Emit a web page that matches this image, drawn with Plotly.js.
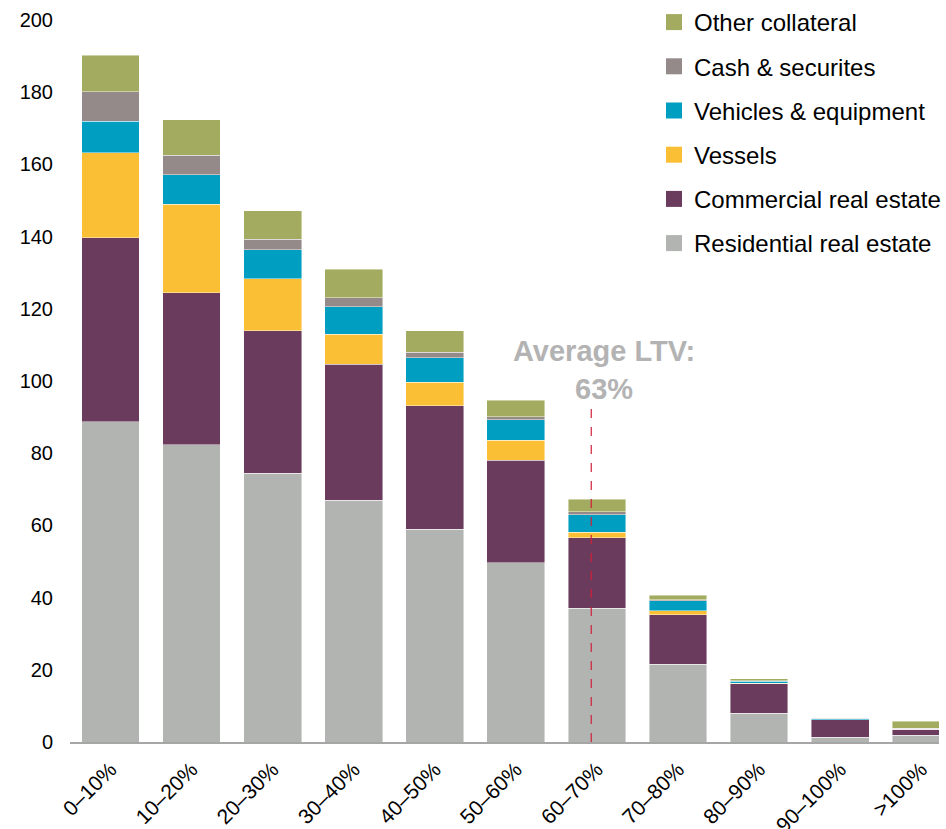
<!DOCTYPE html>
<html>
<head>
<meta charset="utf-8">
<script src="https://cdn.plot.ly/plotly-3.0.1.min.js"></script>
<style>html,body{margin:0;padding:0;background:#fff;}#chart{width:946px;height:829px;}</style>
</head>
<body>
<div id="chart"></div>
<script>
const categories = ["0–10%","10–20%","20–30%","30–40%","40–50%","50–60%","60–70%","70–80%","80–90%","90–100%",">100%"];
const residential = [88.7, 82.3, 74.4, 67.0, 59.0, 49.7, 37.1, 21.6, 8.0, 1.3, 1.9];
const commercial  = [51.0, 42.2, 39.5, 37.6, 34.1, 28.4, 19.5, 13.7, 8.1, 4.9, 1.6];
const vessels     = [23.5, 24.4, 14.4, 8.4, 6.6, 5.5, 1.5, 1.0, 0.2, 0.0, 0.0];
const vehicles    = [8.7, 8.3, 8.0, 7.6, 6.8, 5.7, 4.9, 2.8, 0.5, 0.3, 0.2];
const cash        = [8.2, 5.3, 2.9, 2.4, 1.4, 0.8, 0.8, 0.3, 0.1, 0.1, 0.1];
const other       = [10.2, 9.9, 8.0, 7.9, 6.0, 4.5, 3.5, 1.2, 0.6, 0.1, 1.9];
const averageLTVPos = 5.93;
const averageLTVLabel = "Average LTV:<br>63%";

const seriesNames = ["Residential real estate","Commercial real estate","Vessels","Vehicles & equipment","Cash & securites","Other collateral"];
const seriesValues = [residential, commercial, vessels, vehicles, cash, other];
const seriesColors = ["#b2b4b2","#6a3b5d","#fbbf36","#009ec0","#948a8a","#a2ab5f"];

const font = "Arial, 'Liberation Sans', sans-serif";
const barTraces = seriesNames.map((n, i) => ({
  type: "bar",
  name: n,
  x: categories.map((c, k) => k),
  y: seriesValues[i],
  showlegend: false,
  marker: {color: seriesColors[i], line: {color: "rgba(255,255,255,0.55)", width: 0.8}},
  hoverinfo: "skip"
}));
// legend entries (square swatches) for the same series
const legendTraces = seriesNames.map((n, i) => ({
  type: "scatter", mode: "markers",
  name: n,
  x: [null], y: [null],
  legendgroup: "g" + i,
  legendrank: seriesNames.length - i,
  showlegend: true,
  marker: {symbol: "square", size: 22, color: seriesColors[i], line: {width: 0}},
  hoverinfo: "skip"
}));

const plotH = 829 - 87;
const layout = {
  width: 946, height: 829,
  margin: {l: 70, r: 0, t: 0, b: 87},
  paper_bgcolor: "#fff", plot_bgcolor: "#fff",
  barmode: "stack", bargap: 0.287,
  font: {family: font, color: "#000"},
  showlegend: true,
  legend: {
    x: 0.6724, xanchor: "left", y: 1, yanchor: "top",
    traceorder: "grouped", tracegroupgap: 10,
    font: {size: 24, family: font, color: "#000"},
    itemwidth: 30, bgcolor: "rgba(0,0,0,0)", borderwidth: 0
  },
  xaxis: {
    type: "linear",
    range: [-0.5, 10.22],
    tickmode: "array",
    tickvals: categories.map((c, k) => k),
    ticktext: categories,
    tickangle: -45,
    tickfont: {size: 21, family: font, color: "#000"},
    ticklabelstandoff: 5,
    showgrid: false, zeroline: false,
    showline: true, linecolor: "#a6a6a6", linewidth: 2,
    ticks: "", fixedrange: true
  },
  yaxis: {
    domain: [0, 722 / plotH],
    range: [0, 200],
    tickvals: [0, 20, 40, 60, 80, 100, 120, 140, 160, 180, 200],
    tickfont: {size: 20, family: font, color: "#000"},
    showgrid: false, zeroline: false, showline: false,
    ticks: "", ticklabelstandoff: 16, fixedrange: true
  },
  shapes: [{
    type: "line", xref: "x", yref: "y",
    x0: averageLTVPos, x1: averageLTVPos, y0: 0, y1: 93.4,
    line: {color: "#d0203a", width: 1.2, dash: "dash"}, layer: "above"
  }],
  annotations: [{
    xref: "x", yref: "y", x: 6.086, y: 103,
    text: "<b>" + averageLTVLabel + "</b>",
    showarrow: false, xanchor: "center", yanchor: "middle",
    font: {size: 29, family: font, color: "#b3b3b3"}
  }]
};

Plotly.newPlot("chart", barTraces.concat(legendTraces), layout, {displayModeBar: false, staticPlot: true});
</script>
</body>
</html>
